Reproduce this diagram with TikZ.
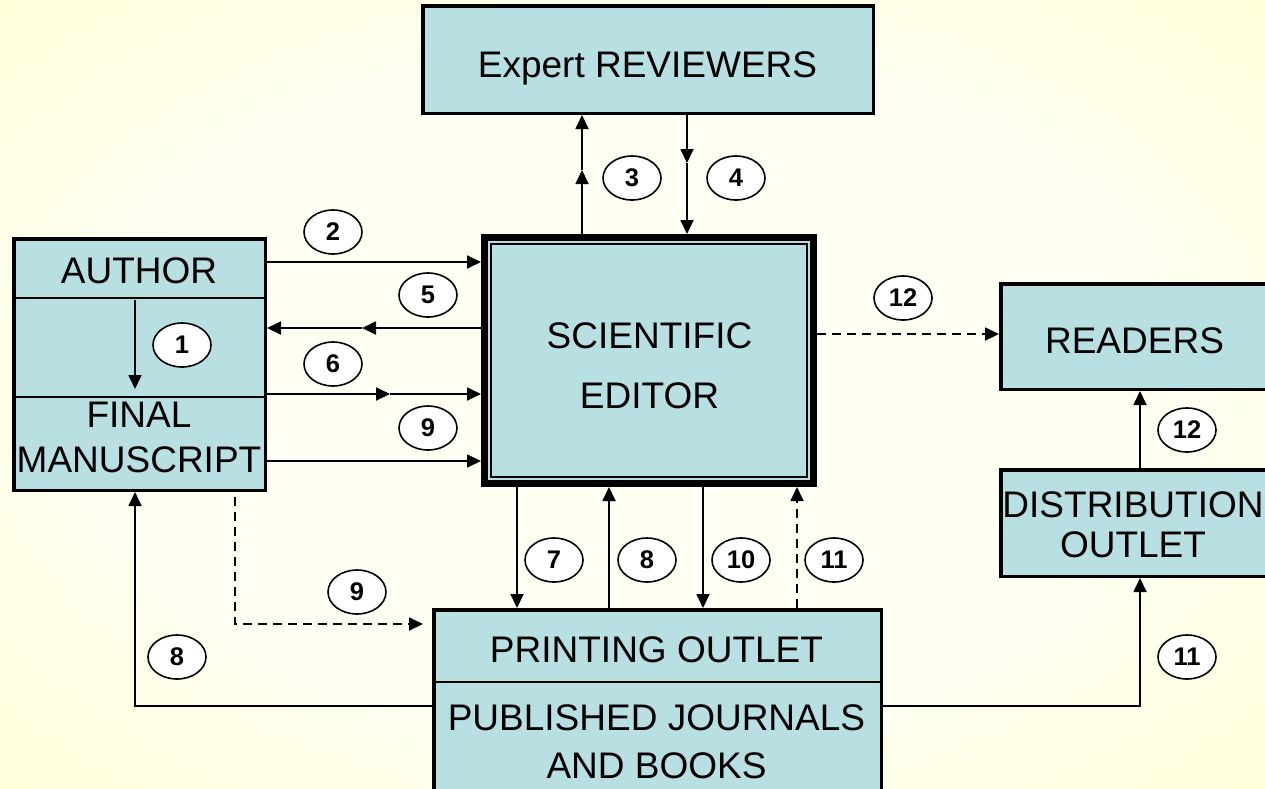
\documentclass[tikz,border=0pt]{standalone}
\usepackage{fontspec}
\setmainfont{Liberation Sans}
\usetikzlibrary{arrows.meta,calc,shapes.geometric}
\definecolor{boxblue}{RGB}{184,223,226}
\definecolor{bgout}{RGB}{255,255,196}
\definecolor{bgin}{RGB}{255,255,243}
\pgfdeclareradialshading{bgshade}{\pgfpoint{0bp}{0bp}}{color(0bp)=(bgin); color(20bp)=(bgin); color(50bp)=(bgout)}
\tikzset{
  box/.style={draw, line width=3.5pt, fill=boxblue, inner sep=0pt},
  boxtext/.style={font=\fontsize{37}{43}\selectfont, anchor=base, inner sep=0pt},
  num/.style={draw, ellipse, line width=1.6pt, fill=white, minimum width=58pt, minimum height=44pt, inner sep=0pt, font=\fontsize{25.5}{25.5}\selectfont\bfseries},
  conn/.style={line width=1.8pt, -{Triangle[length=14pt,width=13pt]}},
  plain/.style={line width=1.8pt},
  dsh/.style={dash pattern=on 9pt off 6pt},
  divider/.style={line width=1.8pt}
}
\begin{document}
\begin{tikzpicture}[x=1pt,y=-1pt]
\useasboundingbox (0,0) rectangle (1265,788);
\clip (0,0) rectangle (1265,788);
\shade[shading=bgshade] (0,0) rectangle (1265,788);

% boxes
\node[box, minimum width=450.5pt, minimum height=107.5pt] (rev) at (648,59.5) {};
\node[box, minimum width=251.5pt, minimum height=251.5pt] (author) at (139.5,364.5) {};
\node[box, line width=7pt, minimum width=329pt, minimum height=246pt] (editor) at (649,360.5) {};
\node[box, minimum width=447.5pt, minimum height=198.5pt] (printing) at (657.5,709) {};
\node[box, minimum width=272.5pt, minimum height=105.5pt] (readers) at (1137,336.5) {};
\node[box, minimum width=272.5pt, minimum height=106.5pt] (dist) at (1137,523) {};

% editor inner line
\draw[line width=1.5pt] ([shift={(10,10)}]editor.north west) rectangle ([shift={(-10,-10)}]editor.south east);

% dividers
\coordinate (da) at (0,298);
\coordinate (db) at (0,397);
\coordinate (dc) at (0,682);
\draw[divider] (author.west |- da) -- (author.east |- da);
\draw[divider] (author.west |- db) -- (author.east |- db);
\draw[divider] (printing.west |- dc) -- (printing.east |- dc);

% texts
\node[boxtext] (tRev) at (647.5,77) {Expert REVIEWERS};
\node[boxtext] (tAuthor) at (139,283) {AUTHOR};
\node[boxtext] (tFinal) at (139,427) {FINAL};
\node[boxtext] (tManu) at (139,472) {MANUSCRIPT};
\node[boxtext] (tSci) at (649.5,348) {SCIENTIFIC};
\node[boxtext] (tEd) at (649.5,408) {EDITOR};
\node[boxtext] (tRead) at (1134.5,353) {READERS};
\node[boxtext] (tDist) at (1133,517) {DISTRIBUTION};
\node[boxtext] (tOut) at (1133,557) {OUTLET};
\node[boxtext] (tPrint) at (656.5,662) {PRINTING OUTLET};
\node[boxtext] (tPub) at (656.5,730) {PUBLISHED JOURNALS};
\node[boxtext] (tBooks) at (656.5,778) {AND BOOKS};

% helper coordinates
\coordinate (a1s) at (135,300);
\coordinate (a1e) at (135,389);
\coordinate (y2) at (0,262);
\coordinate (m5) at (362,328);
\coordinate (m6) at (390,394);
\coordinate (y9) at (0,461);
\coordinate (m3) at (582,170);
\coordinate (m4) at (687,163);
\coordinate (x7) at (517,0);
\coordinate (x8) at (609,0);
\coordinate (x10) at (703,0);
\coordinate (x11) at (797,0);
\coordinate (c9a) at (235,497);
\coordinate (c9b) at (235,624);
\coordinate (c9c) at (423,624);
\coordinate (y706) at (0,706);
\coordinate (c8) at (135,706);
\coordinate (c11) at (1140,706);
\coordinate (y12) at (0,334);
\coordinate (x12) at (1140,0);

% connectors
\draw[conn] (a1s) -- (a1e);
\draw[conn] (author.east |- y2) -- (editor.west |- y2);
\draw[conn] (editor.west |- m5) -- (m5);
\draw[conn] (m5) -- (author.east |- m5);
\draw[conn] (author.east |- m6) -- (m6);
\draw[conn] (m6) -- (editor.west |- m6);
\draw[conn] (author.east |- y9) -- (editor.west |- y9);
\draw[conn] (editor.north -| m3) -- (m3);
\draw[conn] (m3) -- (rev.south -| m3);
\draw[conn] (rev.south -| m4) -- (m4);
\draw[conn] (m4) -- (editor.north -| m4);
\draw[conn] (editor.south -| x7) -- (printing.north -| x7);
\draw[conn] (printing.north -| x8) -- (editor.south -| x8);
\draw[conn] (editor.south -| x10) -- (printing.north -| x10);
\draw[conn, dsh] (printing.north -| x11) -- (editor.south -| x11);
\draw[conn, dsh] (c9a) -- (c9b) -- (c9c);
\draw[conn] (printing.west |- y706) -- (c8) -- (author.south -| c8);
\draw[conn] (printing.east |- y706) -- (c11) -- (dist.south -| c11);
\draw[conn, dsh] (editor.east |- y12) -- (readers.west |- y12);
\draw[conn] (dist.north -| x12) -- (readers.south -| x12);

% number labels
\node[num] (n1) at (182,345) {1};
\node[num] (n2) at (333,232) {2};
\node[num] (n3) at (632,178) {3};
\node[num] (n4) at (736,178) {4};
\node[num] (n5) at (428,295) {5};
\node[num] (n6) at (333,364) {6};
\node[num] (n9a) at (428,428) {9};
\node[num] (n7) at (554,560) {7};
\node[num] (n8a) at (647,560) {8};
\node[num] (n10) at (741,560) {10};
\node[num] (n11a) at (834,560) {11};
\node[num] (n9b) at (357,592) {9};
\node[num] (n8b) at (177,657) {8};
\node[num] (n12a) at (903,298) {12};
\node[num] (n12b) at (1187,430) {12};
\node[num] (n11b) at (1187,657) {11};
\end{tikzpicture}
\end{document}
